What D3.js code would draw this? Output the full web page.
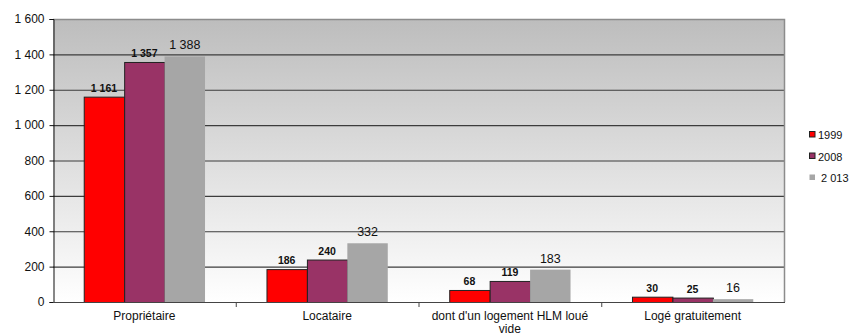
<!DOCTYPE html>
<html>
<head>
<meta charset="utf-8">
<script src="https://cdnjs.cloudflare.com/ajax/libs/d3/7.8.5/d3.min.js"></script>
<style>
  html, body { margin: 0; padding: 0; background: #fff; }
  svg { display: block; font-family: Arial, "Liberation Sans", sans-serif; }
</style>
</head>
<body>
<svg id="chart" width="853" height="336"></svg>
<script>
// Statut d'occupation des résidences principales
const categories = ["Propriétaire", "Locataire", "dont d'un logement HLM loué vide", "Logé gratuitement"];
const series = ["1999", "2008", "2 013"];
const values1999 = [1161, 186, 68, 30];
const values2008 = [1357, 240, 119, 25];
const values2013 = [1388, 332, 183, 16];
const yTicks = [0, 200, 400, 600, 800, 1000, 1200, 1400, 1600];

const seriesValues = [values1999, values2008, values2013];
const colors = ["#ff0000", "#993366", "#a6a6a6"];
const strokes = ["#222", "#222", "none"];

const svg = d3.select("#chart");
const m = { left: 53, right: 784, top: 19, bottom: 302 };

const fmt = v => d3.format(",")(v).replace(/,/g, " ");

const x0 = d3.scaleBand().domain(categories).range([m.left, m.right]).paddingInner(0).paddingOuter(0);
const x1 = d3.scaleBand().domain(series).range([0, x0.bandwidth()]).paddingInner(0).paddingOuter(0.76);
const y = d3.scaleLinear().domain([0, 1600]).range([m.bottom, m.top]);

// Plot background gradient
const defs = svg.append("defs");
const grad = defs.append("linearGradient").attr("id", "bg").attr("x1", 0).attr("y1", 0).attr("x2", 0).attr("y2", 1);
grad.append("stop").attr("offset", "0%").attr("stop-color", "#bdbdbd");
grad.append("stop").attr("offset", "100%").attr("stop-color", "#ffffff");

svg.append("rect")
  .attr("x", m.left).attr("y", m.top)
  .attr("width", m.right - m.left).attr("height", m.bottom - m.top)
  .attr("fill", "url(#bg)");

// Gridlines
svg.append("g").selectAll("line")
  .data(yTicks.filter(d => d > 0 && d < 1600))
  .join("line")
  .attr("x1", m.left).attr("x2", m.right)
  .attr("y1", d => y(d) + 0.5).attr("y2", d => y(d) + 0.5)
  .attr("stroke", "#3c3c3c").attr("stroke-width", 1.2);

// Plot frame (top and right)
svg.append("path")
  .attr("d", `M${m.left},${m.top + 0.5}H${m.right + 0.5}V${m.bottom}`)
  .attr("fill", "none").attr("stroke", "#8c8c8c").attr("stroke-width", 1.5);

// Bars
const groups = svg.append("g").selectAll("g")
  .data(series)
  .join("g");

groups.each(function(s, si) {
  const g = d3.select(this);
  const vals = seriesValues[si];
  g.selectAll("rect")
    .data(categories.map((c, i) => ({ c, v: vals[i] })))
    .join("rect")
    .attr("x", d => x0(d.c) + x1(s) + (si < 2 ? 0.5 : 0))
    .attr("y", d => y(d.v) + (si < 2 ? 0.5 : 0))
    .attr("width", x1.bandwidth())
    .attr("height", d => y(0) - y(d.v))
    .attr("fill", colors[si])
    .attr("stroke", strokes[si])
    .attr("stroke-width", 1);

  g.selectAll("text")
    .data(categories.map((c, i) => ({ c, v: vals[i] })))
    .join("text")
    .attr("x", d => x0(d.c) + x1(s) + x1.bandwidth() / 2)
    .attr("y", d => y(d.v) - (si < 2 ? 5 : 7))
    .attr("text-anchor", "middle")
    .attr("font-size", si < 2 ? 10.5 : 12.5)
    .attr("font-weight", si < 2 ? "bold" : "normal")
    .attr("fill", "#111")
    .text(d => fmt(d.v));
});

// Y axis
const yAxis = d3.axisLeft(y).tickValues(yTicks).tickSize(4).tickPadding(5).tickFormat(fmt);
const gy = svg.append("g").attr("transform", `translate(${m.left + 0.5},0)`).call(yAxis);
gy.select(".domain").attr("stroke", "#111");
gy.selectAll(".tick line").attr("stroke", "#111");
gy.selectAll(".tick text").attr("font-size", 12).attr("font-family", "Arial, 'Liberation Sans', sans-serif").attr("fill", "#111");

// X axis
svg.append("line")
  .attr("x1", m.left).attr("x2", m.right + 1)
  .attr("y1", m.bottom + 0.5).attr("y2", m.bottom + 0.5)
  .attr("stroke", "#444").attr("stroke-width", 1.2);

svg.append("g").selectAll("line")
  .data(categories.slice(1))
  .join("line")
  .attr("x1", d => x0(d) + 0.5).attr("x2", d => x0(d) + 0.5)
  .attr("y1", m.bottom).attr("y2", m.bottom + 5)
  .attr("stroke", "#444");

// Category labels (wrapped)
const wrapLines = {
  "dont d'un logement HLM loué vide": ["dont d'un logement HLM loué", "vide"]
};
const xl = svg.append("g").selectAll("text")
  .data(categories)
  .join("text")
  .attr("x", d => x0(d) + x0.bandwidth() / 2)
  .attr("y", 320)
  .attr("text-anchor", "middle")
  .attr("font-size", 12)
  .attr("fill", "#111");
xl.each(function(d) {
  const lines = wrapLines[d] || [d];
  d3.select(this).selectAll("tspan")
    .data(lines)
    .join("tspan")
    .attr("x", x0(d) + x0.bandwidth() / 2)
    .attr("dy", (l, i) => i === 0 ? 0 : 12.5)
    .text(l => l);
});

// Legend
const legend = svg.append("g").attr("transform", "translate(809,131)");
series.forEach((s, i) => {
  const row = legend.append("g").attr("transform", `translate(0,${i * 21.5})`);
  row.append("rect")
    .attr("x", 0.5).attr("y", 0.5).attr("width", 5.5).attr("height", 5.5)
    .attr("fill", colors[i])
    .attr("stroke", strokes[i]).attr("stroke-width", 1);
  row.append("text")
    .attr("x", 9).attr("y", 8)
    .attr("font-size", 11)
    .attr("fill", "#111")
    .attr("xml:space", "preserve")
    .text(i === 2 ? " " + s : s);
});
</script>
</body>
</html>
